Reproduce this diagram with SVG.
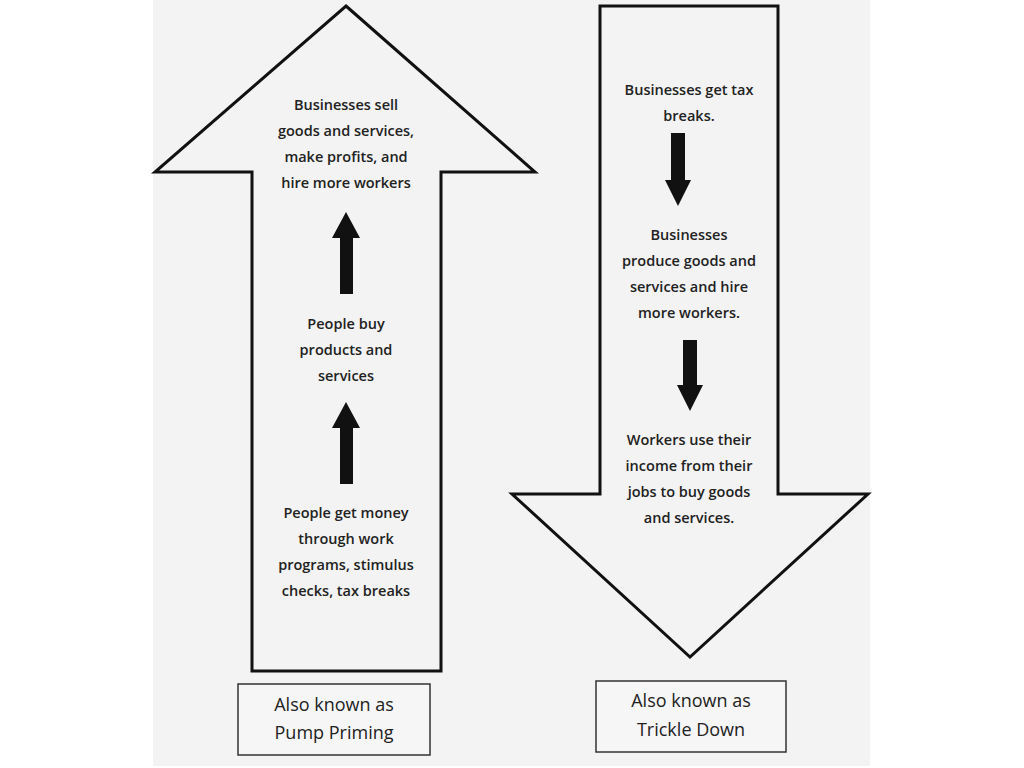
<svg xmlns="http://www.w3.org/2000/svg" width="1024" height="768" viewBox="0 0 1024 768">
<style>
.big{fill:#f3f3f3;stroke:#111;stroke-width:3;stroke-linejoin:miter}
.t{font-family:"Open Sans","Liberation Sans",sans-serif;font-size:14.5px;font-weight:600;fill:#222;text-anchor:middle}
.bt{font-family:"Open Sans","Liberation Sans",sans-serif;font-size:18px;fill:#222;text-anchor:middle}
.box{fill:#f6f6f6;stroke:#333;stroke-width:1.5}
</style>
<rect width="1024" height="768" fill="#fff"/>
<rect x="153" y="0" width="717" height="766" fill="#f3f3f3"/>
<g id="up-arrow"><polygon class="big" points="346,6 535,172 441,172 441,671 252,671 252,172 155,172"/></g>
<g id="down-arrow"><polygon class="big" points="600,6 778,6 778,494 868,494 690,657 512,494 600,494"/></g>
<g id="connectors" fill="#111">
<polygon points="340,294 353,294 353,238 360,238 346,212 332,238 340,238"/>
<polygon points="340,484 353,484 353,428 360,428 346,402 332,428 340,428"/>
<polygon points="671,133 685,133 685,180 691,180 678,206 665,180 671,180"/>
<polygon points="683,340 697,340 697,385 703,385 690,411 677,385 683,385"/>
</g>
<g id="n1"><text class="t" x="346" y="110">Businesses sell</text><text class="t" x="346" y="136">goods and services,</text><text class="t" x="346" y="162">make profits, and</text><text class="t" x="346" y="188">hire more workers</text></g>
<g id="n2"><text class="t" x="346" y="329">People buy</text><text class="t" x="346" y="355">products and</text><text class="t" x="346" y="381">services</text></g>
<g id="n3"><text class="t" x="346" y="518">People get money</text><text class="t" x="346" y="544">through work</text><text class="t" x="346" y="570">programs, stimulus</text><text class="t" x="346" y="596">checks, tax breaks</text></g>
<g id="n4"><text class="t" x="689" y="95">Businesses get tax</text><text class="t" x="689" y="121">breaks.</text></g>
<g id="n5"><text class="t" x="689" y="240">Businesses</text><text class="t" x="689" y="266">produce goods and</text><text class="t" x="689" y="292">services and hire</text><text class="t" x="689" y="318">more workers.</text></g>
<g id="n6"><text class="t" x="689" y="445">Workers use their</text><text class="t" x="689" y="471">income from their</text><text class="t" x="689" y="497">jobs to buy goods</text><text class="t" x="689" y="523">and services.</text></g>
<g id="box1"><rect class="box" x="238" y="684" width="192" height="71"/><text class="bt" x="334" y="711">Also known as</text><text class="bt" x="334" y="739">Pump Priming</text></g>
<g id="box2"><rect class="box" x="596" y="681" width="190" height="71"/><text class="bt" x="691" y="707">Also known as</text><text class="bt" x="691" y="736">Trickle Down</text></g>
</svg>
